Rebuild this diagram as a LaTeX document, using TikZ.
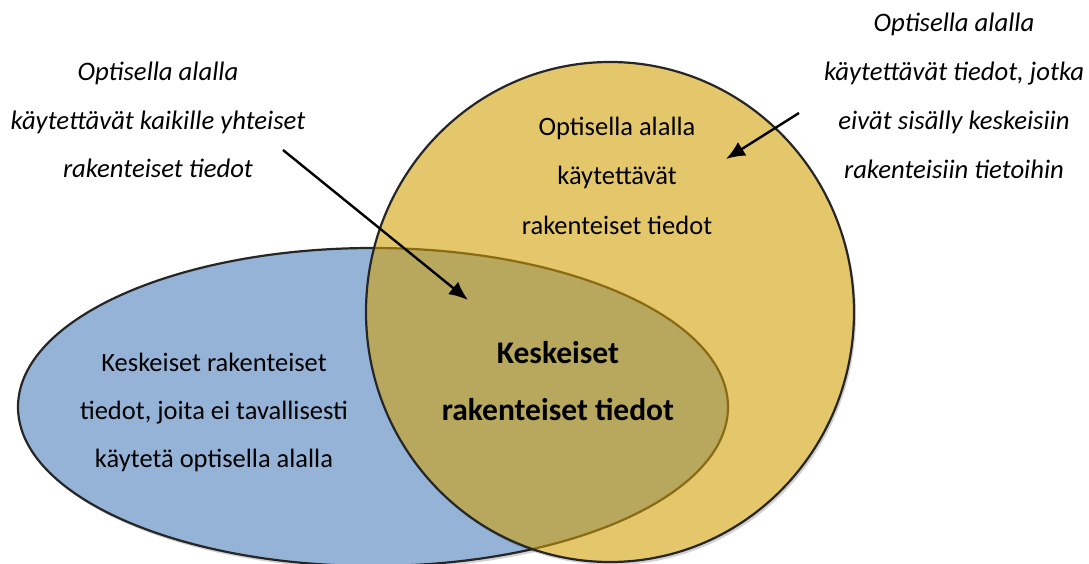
\documentclass[tikz,border=0pt]{standalone}
\usepackage{fontspec}
\setmainfont{Carlito}
\usetikzlibrary{arrows.meta,shadows}
\definecolor{vennblue}{HTML}{95B3D7}
\definecolor{vennyellow}{HTML}{E5C76B}
\definecolor{vennolive}{HTML}{B8A85E}
\definecolor{rimgray}{HTML}{262626}
\definecolor{rimbrown}{HTML}{8A6A12}
\begin{document}
\begin{tikzpicture}[x=1pt,y=-1pt]
	\tikzset{
		note/.style={anchor=base, inner sep=0pt, font=\fontsize{26.7}{30}\selectfont\itshape},
		plain/.style={anchor=base, inner sep=0pt, font=\fontsize{26.5}{30}\selectfont},
		strong/.style={anchor=base, inner sep=0pt, font=\fontsize{31.5}{36}\selectfont\bfseries},
		pointer/.style={line width=2.4pt, -{Latex[length=19pt,width=16pt]}},
		softshadow/.style={drop shadow={shadow xshift=2pt, shadow yshift=-3pt, opacity=0.18, fill=black}}
	}
	\useasboundingbox (0,0) rectangle (1089,564);
	\coordinate (blueC) at (373,407);
	\coordinate (yellowC) at (610,312);
	% sets
	\fill[vennblue, softshadow] (blueC) ellipse [x radius=355, y radius=159];
	\draw[rimgray, line width=2.2pt] (blueC) ellipse [x radius=355, y radius=159];
	\fill[vennyellow, softshadow] (yellowC) ellipse [x radius=244, y radius=250];
	\begin{scope}
		\clip (yellowC) ellipse [x radius=244, y radius=250];
		\fill[vennolive] (blueC) ellipse [x radius=355, y radius=159];
		\draw[rimbrown, line width=2.2pt] (blueC) ellipse [x radius=355, y radius=159];
	\end{scope}
	\draw[rimgray, line width=2.2pt] (yellowC) ellipse [x radius=244, y radius=250];
	% texts inside
	\foreach \txt [count=\i from 0] in {Keskeiset rakenteiset, {tiedot, joita ei tavallisesti}, käytetä optisella alalla}
		\node[plain] (core\i) at (214,371+48*\i) {\txt};
	\foreach \txt [count=\i from 0] in {Optisella alalla, käytettävät, rakenteiset tiedot}
		\node[plain] (optic\i) at (617,136+49*\i) {\txt};
	\node[strong] (shared0) at (558,363) {Keskeiset};
	\node[strong] (shared1) at (558,420) {rakenteiset tiedot};
	% notes outside
	\foreach \txt [count=\i from 0] in {Optisella alalla, käytettävät kaikille yhteiset, rakenteiset tiedot}
		\node[note] (common\i) at (158,81+48.5*\i) {\txt};
	\foreach \txt [count=\i from 0] in {Optisella alalla, {käytettävät tiedot, jotka}, eivät sisälly keskeisiin, rakenteisiin tietoihin}
		\node[note] (extra\i) at (954,32+48.7*\i) {\txt};
	% arrows
	\coordinate (commonTail) at (283,150);
	\coordinate (commonTip) at (468,300);
	\coordinate (extraTail) at (799,113);
	\coordinate (extraTip) at (726,159);
	\draw[pointer] (commonTail) -- (commonTip);
	\draw[pointer] (extraTail) -- (extraTip);
\end{tikzpicture}
\end{document}
